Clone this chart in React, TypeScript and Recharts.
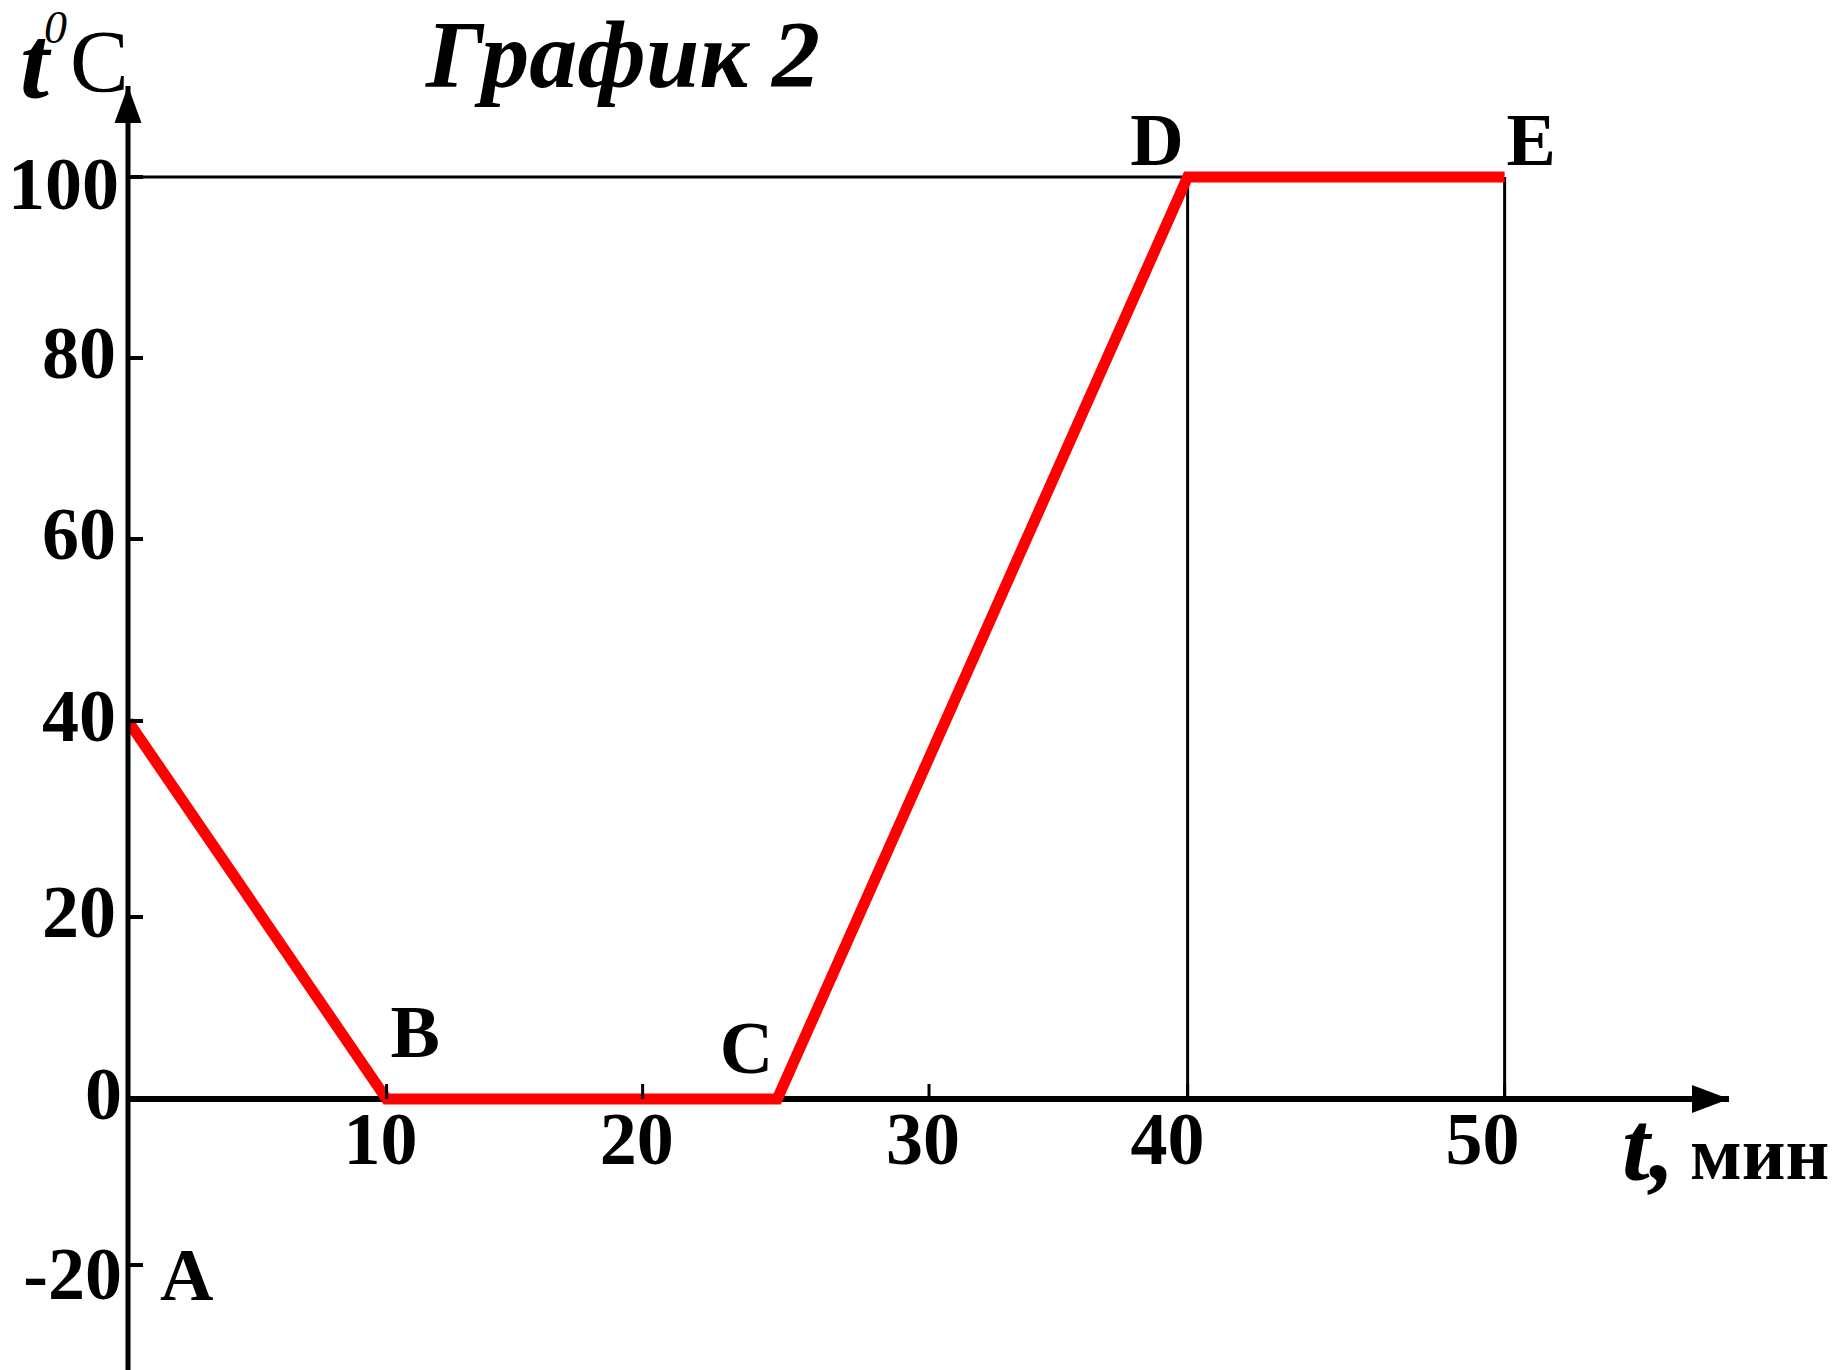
import React from 'react';
import { LineChart, Line, XAxis, YAxis, ReferenceLine, ReferenceDot } from 'recharts';

// ---- data ----
const timeMin = [0, 10, 24.7, 40, 50];
const tempC = [40, 0, 0, 100, 100];
const pointNames = ['A', 'B', 'C', 'D', 'E'];
const xTickValues = [10, 20, 30, 40, 50];
const yTickValues = [-20, 0, 20, 40, 60, 80, 100];
const titleText = 'График 2';
const xUnitText = 'мин';

// the hand-drawn axes are unevenly spaced: value -> drawn position knots
const xKnots = [0, 10, 20, 30, 40, 50];
const xKnotsDrawn = [0, 10.05, 20, 31.13, 41.18, 53.5];
const yKnots = [-20, 0, 20, 40, 60, 80, 100];
const yKnotsDrawn = [-18, 0, 19.74, 41, 60.74, 80.37, 100];

function warp(v: number, from: number[], to: number[]): number {
  for (let i = 0; i < from.length - 1; i++) {
    if (v <= from[i + 1] || i === from.length - 2) {
      const f = (v - from[i]) / (from[i + 1] - from[i]);
      return to[i] + f * (to[i + 1] - to[i]);
    }
  }
  return v;
}
const wx = (v: number) => warp(v, xKnots, xKnotsDrawn);
const wy = (v: number) => warp(v, yKnots, yKnotsDrawn);

const table = timeMin.map((t, i) => ({ x: wx(t), y: wy(tempC[i]), name: pointNames[i] }));

// ---- layout / style ----
const W = 1832;
const H = 1370;
const FONT = '"Liberation Serif", "Times New Roman", serif';
const X_DOMAIN: [number, number] = [0, 62.22];
const Y_DOMAIN: [number, number] = [-29.39, 109.87];

// small per-label nudges (label placement of the hand-drawn original)
const xLabelNudge = [-6, -6, -6, -20, -22];
const yLabelNudge: [number, number][] = [[6, 14], [6, 0], [0, 0], [0, 0], [0, 0], [0, 0], [3, 12]];

const labelStyle: Record<string, { dx: number; dy: number; anchor: 'start' | 'end' }> = {
  B: { dx: 4, dy: -42, anchor: 'start' },
  C: { dx: -4, dy: -26, anchor: 'end' },
  D: { dx: -4, dy: -12, anchor: 'end' },
  E: { dx: 2, dy: -12, anchor: 'start' },
};

function YTick(props: any) {
  const { x, y, index } = props;
  const label = yTickValues[index];
  const [nx, ny] = yLabelNudge[index] || [0, 0];
  return (
    <g>
      <line x1={x} y1={y} x2={x + 15} y2={y} stroke="#000" strokeWidth={4} />
      <text x={x - 12 + nx} y={y + 20 + ny} textAnchor="end" fontFamily={FONT} fontSize={74} fontWeight="bold" fill="#000">
        {String(label)}
      </text>
    </g>
  );
}

const xTickShape = (label: string, nudge: number) => (p: any) => (
  <g>
    <line x1={p.cx} y1={p.cy - 15} x2={p.cx} y2={p.cy} stroke="#000" strokeWidth={3} />
    <text x={p.cx + nudge} y={p.cy + 65} textAnchor="middle" fontFamily={FONT} fontSize={74} fontWeight="bold" fill="#000">
      {label}
    </text>
  </g>
);

const pointLabelShape = (name: string) => (p: any) => {
  const s = labelStyle[name];
  return (
    <text x={p.cx + s.dx} y={p.cy + s.dy} textAnchor={s.anchor} fontFamily={FONT} fontSize={74} fontWeight="bold" fill="#000">
      {name}
    </text>
  );
};

const aLabelShape = (p: any) => (
  <text x={p.cx + 32} y={p.cy + 35} textAnchor="start" fontFamily={FONT} fontSize={74} fontWeight="bold" fill="#000">
    {pointNames[0]}
  </text>
);

const xArrowShape = (p: any) => (
  <polygon points={`${p.cx},${p.cy} ${p.cx - 37},${p.cy - 14} ${p.cx - 37},${p.cy + 14}`} fill="#000" />
);
const yArrowShape = (p: any) => (
  <polygon points={`${p.cx},${p.cy} ${p.cx - 13.5},${p.cy + 37} ${p.cx + 13.5},${p.cy + 37}`} fill="#000" />
);

export default function App() {
  const xE = wx(timeMin[4]);
  const xD = wx(timeMin[3]);
  const y100 = wy(tempC[3]);
  return (
    <div style={{ position: 'absolute', left: 0, top: 0, width: W, height: H, background: '#fff' }}>
      <LineChart
        width={W}
        height={H}
        data={table}
        margin={{ top: 86, right: 103, bottom: 0, left: 0 }}
      >
        <XAxis dataKey="x" type="number" domain={X_DOMAIN} allowDataOverflow hide />
        <YAxis
          type="number"
          domain={Y_DOMAIN}
          allowDataOverflow
          ticks={yTickValues.map(wy)}
          interval={0}
          width={128}
          axisLine={{ stroke: '#000', strokeWidth: 5 }}
          tickLine={false}
          tickSize={0}
          tickMargin={0}
          tick={<YTick />}
        />
        <ReferenceLine y={0} stroke="#000" strokeWidth={6} ifOverflow="visible" />
        <ReferenceLine segment={[{ x: 0, y: y100 }, { x: xD, y: y100 }]} stroke="#000" strokeWidth={3} ifOverflow="visible" />
        <ReferenceLine segment={[{ x: xD, y: 0 }, { x: xD, y: y100 }]} stroke="#000" strokeWidth={3} ifOverflow="visible" />
        <ReferenceLine segment={[{ x: xE, y: 0 }, { x: xE, y: y100 }]} stroke="#000" strokeWidth={3} ifOverflow="visible" />
        {xTickValues.map((v, i) => (
          <ReferenceDot key={'xt' + v} x={wx(v)} y={0} r={1} ifOverflow="visible" shape={xTickShape(String(v), xLabelNudge[i])} />
        ))}
        <ReferenceDot x={X_DOMAIN[1]} y={0} r={1} ifOverflow="visible" shape={xArrowShape} />
        <ReferenceDot x={0} y={Y_DOMAIN[1]} r={1} ifOverflow="visible" shape={yArrowShape} />
        <ReferenceDot x={0} y={wy(yTickValues[0])} r={1} ifOverflow="visible" shape={aLabelShape} />
        {table.slice(1).map((d) => (
          <ReferenceDot key={'pl' + d.name} x={d.x} y={d.y} r={1} ifOverflow="visible" shape={pointLabelShape(d.name)} />
        ))}
        <Line
          type="linear"
          dataKey="y"
          stroke="#ff0000"
          strokeWidth={11}
          strokeLinejoin="miter"
          strokeLinecap="butt"
          dot={false}
          activeDot={false}
          isAnimationActive={false}
        />
      </LineChart>
      <svg width={W} height={H} style={{ position: 'absolute', left: 0, top: 0, pointerEvents: 'none' }}>
        <text x={426} y={87} fontFamily={FONT} fontSize={96} fontWeight="bold" fontStyle="italic" fill="#000">
          {titleText}
        </text>
        <text x={20} y={97} fontFamily={FONT} fontSize={104} fontWeight="bold" fontStyle="italic" fill="#000">t</text>
        <text x={44} y={43} fontFamily={FONT} fontSize={46} fontStyle="italic" fill="#000">0</text>
        <text x={70} y={91} fontFamily={FONT} fontSize={88} fill="#000">C</text>
        <text x={1622} y={1180} fontFamily={FONT} fontSize={100} fontWeight="bold" fontStyle="italic" fill="#000">t,</text>
        <text x={1690} y={1179} fontFamily={FONT} fontSize={76} fontWeight="bold" fill="#000">{xUnitText}</text>
      </svg>
    </div>
  );
}
